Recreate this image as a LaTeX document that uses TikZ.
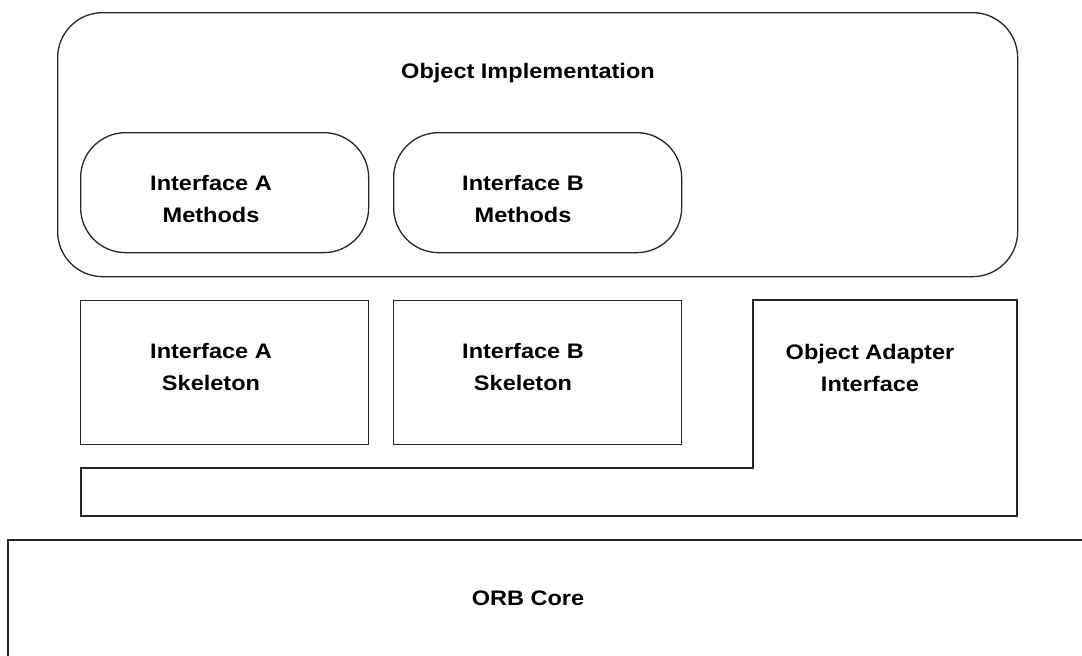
\documentclass[tikz,border=0pt]{standalone}
\usepackage{fontspec}
\setmainfont{Liberation Sans}[FakeStretch=1.12]
\begin{document}
\begin{tikzpicture}[x=1pt,y=-1pt,
  line/.style={draw=black!85,line width=1.3pt},
  box/.style={line,rectangle,inner sep=0pt,anchor=north west},
  rbox/.style={box,rounded corners=45pt},
  lbl/.style={font=\fontsize{21}{32}\selectfont\bfseries,align=center,inner sep=0pt,anchor=base}]
\useasboundingbox (0,0) rectangle (1082,656);
\clip (0,0) rectangle (1082,656);
% Object implementation
\node[rbox,minimum width=960pt,minimum height=264pt] (impl) at (57,12) {};
\node[lbl] (implt) at (528,78) {Object Implementation};
\node[rbox,minimum width=288pt,minimum height=120pt] (ma) at (80,132) {};
\node[lbl] (mat) at (211,222) {Interface A\\Methods};
\node[rbox,minimum width=288pt,minimum height=120pt] (mb) at (393,132) {};
\node[lbl] (mbt) at (523,222) {Interface B\\Methods};
% skeletons
\node[box,minimum width=288pt,minimum height=144pt] (sa) at (80,300) {};
\node[lbl] (sat) at (211,390) {Interface A\\Skeleton};
\node[box,minimum width=288pt,minimum height=144pt] (sb) at (393,300) {};
\node[lbl] (sbt) at (523,390) {Interface B\\Skeleton};
% object adapter
\coordinate (oa1) at (753,300);
\coordinate (oa2) at (1017,300);
\coordinate (oa3) at (1017,516);
\coordinate (oa4) at (81,516);
\coordinate (oa5) at (81,468);
\coordinate (oa6) at (753,468);
\draw[line] (oa1) -- (oa2) -- (oa3) -- (oa4) -- (oa5) -- (oa6) -- cycle;
\node[lbl] (oat) at (870,391) {Object Adapter\\Interface};
% ORB core
\coordinate (orb1) at (8,680);
\coordinate (orb2) at (8,540);
\coordinate (orb3) at (1100,540);
\draw[line] (orb1) -- (orb2) -- (orb3);
\node[lbl] (orbt) at (528,605) {ORB Core};
\end{tikzpicture}
\end{document}
